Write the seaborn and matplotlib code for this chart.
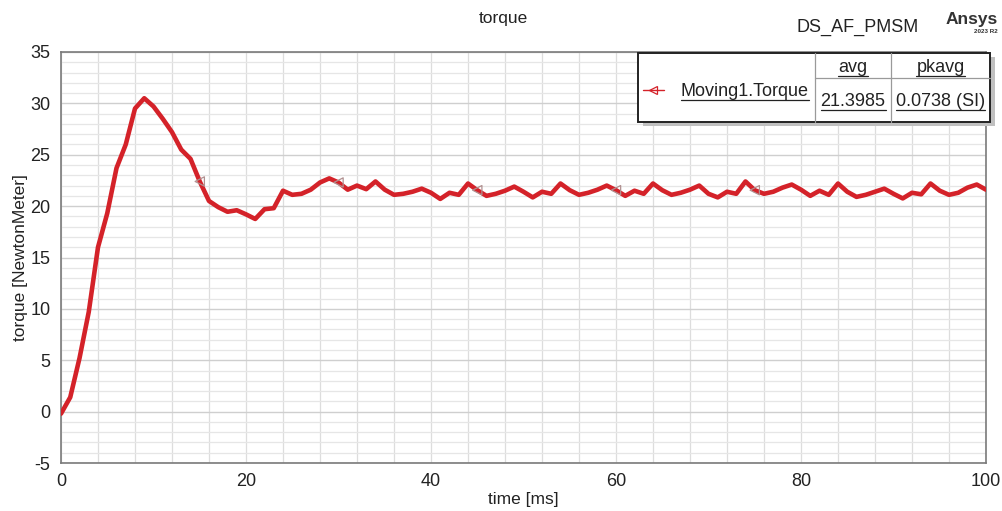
import numpy as np
import pandas as pd
import matplotlib
matplotlib.use("Agg")
import matplotlib.pyplot as plt
from matplotlib.patches import Rectangle
from matplotlib.lines import Line2D
from matplotlib.ticker import MultipleLocator
import seaborn as sns

# ---- data ----
time_ms = list(range(0, 101))
torque = [
    -0.2, 1.4, 5.2, 9.7, 16.0, 19.3, 23.7, 26.0, 29.5, 30.5,
    29.7, 28.5, 27.2, 25.5, 24.6, 22.4, 20.5, 19.9, 19.45, 19.6,
    19.2, 18.75, 19.7, 19.8, 21.5, 21.1, 21.2, 21.6, 22.3, 22.7,
    22.3, 21.6, 22.0, 21.65, 22.4, 21.6, 21.1, 21.2, 21.4, 21.7,
    21.3, 20.7, 21.3, 21.1, 22.2, 21.55, 21.0, 21.2, 21.5, 21.9,
    21.4, 20.85, 21.4, 21.2, 22.2, 21.55, 21.1, 21.3, 21.6, 22.0,
    21.55, 21.0, 21.5, 21.2, 22.2, 21.55, 21.1, 21.3, 21.6, 22.0,
    21.2, 20.85, 21.4, 21.2, 22.4, 21.55, 21.2, 21.4, 21.8, 22.1,
    21.6, 21.0, 21.5, 21.1, 22.2, 21.4, 20.9, 21.1, 21.4, 21.7,
    21.2, 20.75, 21.3, 21.15, 22.2, 21.5, 21.1, 21.3, 21.8, 22.1,
    21.6,
]
marker_idx = [15, 30, 45, 60, 75]
series_name = "Moving1.Torque"
stat_headers = ["avg", "pkavg"]
stat_values = ["21.3985", "0.0738 (SI)"]
title = "torque"
design_name = "DS_AF_PMSM"
x_label = "time [ms]"
y_label = "torque [NewtonMeter]"

df = pd.DataFrame({"time": time_ms, "torque": torque})
mk = df.iloc[marker_idx]

# ---- style ----
sns.set_style("white")
plt.rcParams["font.family"] = ["Liberation Sans", "DejaVu Sans"]
plt.rcParams["axes.unicode_minus"] = False

W, H = 1002, 511
fig = plt.figure(figsize=(W / 100, H / 100), dpi=100)
L, R, T, B = 61, 986, 52, 463
ax = fig.add_axes([L / W, 1 - B / H, (R - L) / W, (B - T) / H])

LINE_RED = "#d42229"
sns.lineplot(data=df, x="time", y="torque", ax=ax, color=LINE_RED,
             linewidth=3.3, zorder=3)
sns.scatterplot(data=mk, x="time", y="torque", ax=ax, marker="<", s=45,
                facecolor="none", edgecolor="#b09090", linewidth=0.9, zorder=4)

ax.set_xlim(0, 100)
ax.set_ylim(-5, 35)
ax.xaxis.set_major_locator(MultipleLocator(20))
ax.xaxis.set_minor_locator(MultipleLocator(4))
ax.yaxis.set_major_locator(MultipleLocator(5))
ax.yaxis.set_minor_locator(MultipleLocator(1))

ax.grid(which="minor", axis="y", color="#e6e6e6", linewidth=0.9)
ax.grid(which="major", axis="y", color="#cfcfcf", linewidth=1.0)
ax.grid(which="both", axis="x", color="#dddddd", linewidth=0.9)
ax.set_axisbelow(True)

for s in ax.spines.values():
    s.set_color("#7a7a7a")
    s.set_linewidth(1.2)

ax.tick_params(which="major", direction="out", length=6, width=1,
               color="#555555", labelsize=13, labelcolor="#222222", pad=1.5)
ax.tick_params(which="minor", direction="out", length=3, width=0.9,
               color="#555555")

ax.set_xlabel(x_label, fontsize=12.5, color="#222222", labelpad=1)
ax.set_ylabel(y_label, fontsize=12.5, color="#222222", labelpad=2)

# ---- header texts ----
def fx(px):
    return px / W

def fy(py):
    return 1 - py / H

fig.text(fx(503), fy(18), title, ha="center", va="center", fontsize=12.5,
         color="#222222")
fig.text(fx(858), fy(27), design_name, ha="center", va="center", fontsize=13,
         color="#222222")
fig.text(fx(972), fy(19), "Ansys", ha="center", va="center", fontsize=12.5,
         fontweight="bold", color="#333333")
fig.text(fx(986), fy(31), "2023 R2", ha="center", va="center", fontsize=4.5,
         fontweight="bold", color="#333333")

# ---- legend table ----
bx0, by0, bx1, by1 = 638, 53, 990, 122
fig.patches.append(Rectangle((fx(bx0 + 5), fy(by1 + 4)), (bx1 - bx0) / W,
                             (by1 - by0) / H, transform=fig.transFigure,
                             facecolor="#c0c0c0", edgecolor="none", zorder=8))
fig.patches.append(Rectangle((fx(bx0), fy(by1)), (bx1 - bx0) / W,
                             (by1 - by0) / H, transform=fig.transFigure,
                             facecolor="white", edgecolor="#222222",
                             linewidth=1.4, zorder=9))
c1, c2 = 815, 891
for cx in (c1, c2):
    fig.lines.append(Line2D([fx(cx), fx(cx)], [fy(by0), fy(by1)],
                            transform=fig.transFigure, color="#9a9a9a",
                            linewidth=0.9, zorder=10))
fig.lines.append(Line2D([fx(c1), fx(bx1)], [fy(78), fy(78)],
                        transform=fig.transFigure, color="#9a9a9a",
                        linewidth=0.9, zorder=10))
# legend marker
fig.lines.append(Line2D([fx(643), fx(664)], [fy(90), fy(90)],
                        transform=fig.transFigure, color=LINE_RED,
                        linewidth=1.0, zorder=10))
fig.lines.append(Line2D([fx(653)], [fy(90)], transform=fig.transFigure,
                        marker="<", markersize=6, markerfacecolor="none",
                        markeredgecolor=LINE_RED, markeredgewidth=0.9,
                        linestyle="none", zorder=10))

texts = []
texts.append(fig.text(fx(681), fy(91), series_name, ha="left", va="center",
                      fontsize=13, color="#222222", zorder=11))
texts.append(fig.text(fx((c1 + c2) / 2), fy(67), stat_headers[0], ha="center",
                      va="center", fontsize=13, color="#222222", zorder=11))
texts.append(fig.text(fx((c2 + bx1) / 2), fy(67), stat_headers[1], ha="center",
                      va="center", fontsize=13, color="#222222", zorder=11))
texts.append(fig.text(fx((c1 + c2) / 2), fy(101), stat_values[0], ha="center",
                      va="center", fontsize=13, color="#222222", zorder=11))
texts.append(fig.text(fx((c2 + bx1) / 2), fy(101), stat_values[1], ha="center",
                      va="center", fontsize=13, color="#222222", zorder=11))

# underline each legend text
fig.canvas.draw()
renderer = fig.canvas.get_renderer()
for t in texts:
    bb = t.get_window_extent(renderer=renderer)
    yline = bb.y0 - 0.5
    fig.lines.append(Line2D([bb.x0 / W, bb.x1 / W], [yline / H, yline / H],
                            transform=fig.transFigure, color="#222222",
                            linewidth=0.9, zorder=11))

fig.savefig("out.png", dpi=100)
